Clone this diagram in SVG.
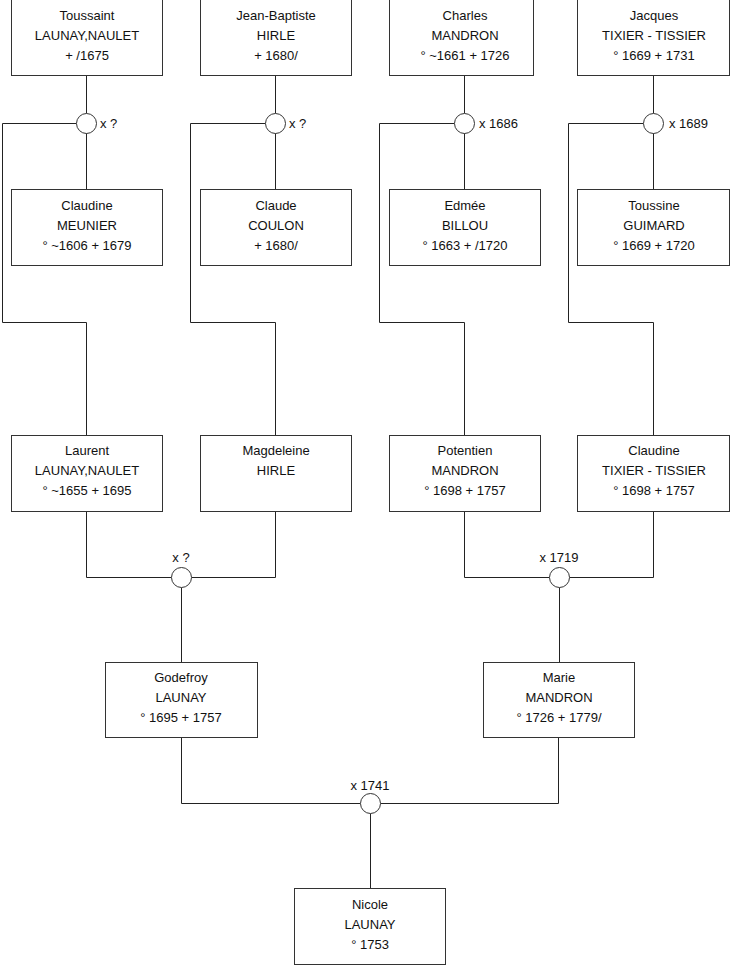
<svg xmlns="http://www.w3.org/2000/svg" width="740" height="975" viewBox="0 0 740 975">
<style>
.box{fill:#fff;stroke:#333;stroke-width:1}
.c{fill:#fff;stroke:#333;stroke-width:1}
.ln{fill:none;stroke:#222;stroke-width:1}
text{font-family:"Liberation Sans",Arial,sans-serif;font-size:13px;fill:#111}
.m{text-anchor:middle}
</style>
<rect width="740" height="975" fill="#fff"/>
<g id="connectors">
<path class="ln" d="M86.5 75.5V113.5M86.5 132.5V189.5M76.5 123.5H2.5V322.5H86.5V435.5"/>
<path class="ln" d="M275.5 75.5V113.5M275.5 132.5V189.5M265.5 123.5H190.5V322.5H275.5V435.5"/>
<path class="ln" d="M464.5 75.5V113.5M464.5 132.5V189.5M454.5 123.5H379.5V322.5H464.5V435.5"/>
<path class="ln" d="M653.5 75.5V113.5M653.5 132.5V189.5M643.5 123.5H568.5V322.5H653.5V435.5"/>
<path class="ln" d="M86.5 511.5V577.5H171.5M191.5 577.5H275.5V511.5M181.5 587.5V662.5"/>
<path class="ln" d="M464.5 511.5V577.5H549.5M569.5 577.5H653.5V511.5M559.5 587.5V662.5"/>
<path class="ln" d="M181.5 737.5V803.5H360.5M380.5 803.5H558.5V737.5M370.5 813.5V888.5"/>
</g>
<g id="m1"><circle class="c" cx="86.5" cy="123.5" r="10"/><text x="100" y="128">x ?</text></g>
<g id="m2"><circle class="c" cx="275.5" cy="123.5" r="10"/><text x="289" y="128">x ?</text></g>
<g id="m3"><circle class="c" cx="464.5" cy="123.5" r="10"/><text x="479" y="128">x 1686</text></g>
<g id="m4"><circle class="c" cx="653.5" cy="123.5" r="10"/><text x="669" y="128">x 1689</text></g>
<g id="m5"><circle class="c" cx="181.5" cy="577.5" r="10"/><text class="m" x="181" y="562">x ?</text></g>
<g id="m6"><circle class="c" cx="559.5" cy="577.5" r="10"/><text class="m" x="559" y="562">x 1719</text></g>
<g id="m7"><circle class="c" cx="370.5" cy="803.5" r="10"/><text class="m" x="370" y="790">x 1741</text></g>
<g id="toussaint"><rect class="box" x="11.5" y="-0.5" width="151" height="76"/><text class="m" x="87" y="20">Toussaint</text><text class="m" x="87" y="40">LAUNAY,NAULET</text><text class="m" x="87" y="60">+ /1675</text></g>
<g id="jeanbaptiste"><rect class="box" x="200.5" y="-0.5" width="151" height="76"/><text class="m" x="276" y="20">Jean-Baptiste</text><text class="m" x="276" y="40">HIRLE</text><text class="m" x="276" y="60">+ 1680/</text></g>
<g id="charles"><rect class="box" x="389.5" y="-0.5" width="144" height="76"/><text class="m" x="465" y="20">Charles</text><text class="m" x="465" y="40">MANDRON</text><text class="m" x="465" y="60">° ~1661 + 1726</text></g>
<g id="jacques"><rect class="box" x="577.5" y="-0.5" width="152" height="76"/><text class="m" x="654" y="20">Jacques</text><text class="m" x="654" y="40">TIXIER - TISSIER</text><text class="m" x="654" y="60">° 1669 + 1731</text></g>
<g id="claudine1"><rect class="box" x="11.5" y="189.5" width="151" height="76"/><text class="m" x="87" y="210">Claudine</text><text class="m" x="87" y="230">MEUNIER</text><text class="m" x="87" y="250">° ~1606 + 1679</text></g>
<g id="claude"><rect class="box" x="200.5" y="189.5" width="151" height="76"/><text class="m" x="276" y="210">Claude</text><text class="m" x="276" y="230">COULON</text><text class="m" x="276" y="250">+ 1680/</text></g>
<g id="edmee"><rect class="box" x="389.5" y="189.5" width="151" height="76"/><text class="m" x="465" y="210">Edmée</text><text class="m" x="465" y="230">BILLOU</text><text class="m" x="465" y="250">° 1663 + /1720</text></g>
<g id="toussine"><rect class="box" x="577.5" y="189.5" width="152" height="76"/><text class="m" x="654" y="210">Toussine</text><text class="m" x="654" y="230">GUIMARD</text><text class="m" x="654" y="250">° 1669 + 1720</text></g>
<g id="laurent"><rect class="box" x="11.5" y="435.5" width="151" height="76"/><text class="m" x="87" y="455">Laurent</text><text class="m" x="87" y="475">LAUNAY,NAULET</text><text class="m" x="87" y="495">° ~1655 + 1695</text></g>
<g id="magdeleine"><rect class="box" x="200.5" y="435.5" width="151" height="76"/><text class="m" x="276" y="455">Magdeleine</text><text class="m" x="276" y="475">HIRLE</text></g>
<g id="potentien"><rect class="box" x="389.5" y="435.5" width="151" height="76"/><text class="m" x="465" y="455">Potentien</text><text class="m" x="465" y="475">MANDRON</text><text class="m" x="465" y="495">° 1698 + 1757</text></g>
<g id="claudine2"><rect class="box" x="577.5" y="435.5" width="152" height="76"/><text class="m" x="654" y="455">Claudine</text><text class="m" x="654" y="475">TIXIER - TISSIER</text><text class="m" x="654" y="495">° 1698 + 1757</text></g>
<g id="godefroy"><rect class="box" x="105.5" y="662.5" width="152" height="75"/><text class="m" x="181" y="682">Godefroy</text><text class="m" x="181" y="702">LAUNAY</text><text class="m" x="181" y="722">° 1695 + 1757</text></g>
<g id="marie"><rect class="box" x="483.5" y="662.5" width="151" height="75"/><text class="m" x="559" y="682">Marie</text><text class="m" x="559" y="702">MANDRON</text><text class="m" x="559" y="722">° 1726 + 1779/</text></g>
<g id="nicole"><rect class="box" x="294.5" y="888.5" width="151" height="76"/><text class="m" x="370" y="909">Nicole</text><text class="m" x="370" y="929">LAUNAY</text><text class="m" x="370" y="949">° 1753</text></g>
</svg>
